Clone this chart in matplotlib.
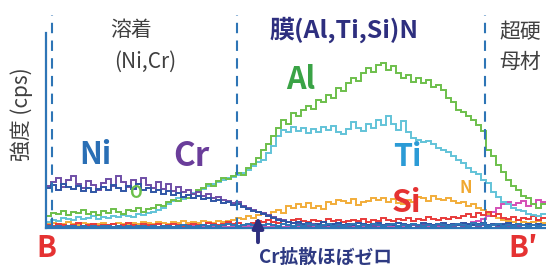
import numpy as np
import matplotlib
matplotlib.use("Agg")
import matplotlib.pyplot as plt

plt.rcParams['font.family'] = ['Noto Sans CJK JP', 'DejaVu Sans']

# profilo lungo la linea B-B' (100 canali, larghezza 5 unità)
n_bin = 100
largh = 5

al = [12, 15, 14, 17, 13, 16, 15, 18, 14, 16, 13, 17, 15, 19, 16, 14, 18, 17, 20, 16,
      19, 20, 23, 22, 26, 28, 27, 31, 30, 34, 38, 40, 44, 42, 47, 50, 49, 52, 55, 53,
      60, 64, 70, 78, 84, 92, 100, 108, 104, 115, 112, 118, 122, 119, 128, 126, 133, 130, 140, 137,
      145, 150, 147, 155, 160, 156, 163, 165, 158, 162, 155, 150, 153, 146, 150, 145, 148, 141, 143, 138,
      130, 126, 118, 116, 112, 108, 103, 97, 78, 72, 63, 56, 48, 42, 38, 32, 30, 24, 20, 24]

ti = [6, 8, 7, 10, 9, 8, 11, 9, 10, 12, 9, 11, 10, 12, 11, 13, 12, 11, 14, 13,
      15, 16, 18, 20, 24, 27, 30, 29, 33, 35, 37, 39, 42, 44, 46, 48, 50, 51, 53, 55,
      58, 62, 66, 68, 75, 82, 92, 98, 96, 101, 97, 100, 95, 99, 96, 101, 98, 102, 96, 94,
      99, 106, 100, 97, 104, 100, 108, 103, 112, 104, 98, 107, 96, 90, 88, 86, 87, 84, 80, 78,
      76, 72, 68, 65, 60, 56, 54, 48, 45, 36, 31, 26, 24, 20, 18, 17, 14, 13, 12, 14]

ni = [40, 43, 38, 44, 41, 39, 42, 37, 40, 36, 39, 41, 38, 43, 40, 37, 42, 39, 44, 38,
      40, 36, 38, 34, 37, 33, 35, 31, 33, 30, 32, 29, 30, 27, 28, 25, 26, 23, 24, 21,
      19, 17, 16, 14, 12, 10, 8, 7, 6, 5, 6, 4, 5, 3, 4, 6, 3, 4, 5, 3,
      4, 3, 5, 4, 3, 4, 5, 3, 4, 3, 5, 4, 3, 4, 3, 5, 4, 3, 4, 5,
      3, 4, 3, 5, 4, 3, 4, 5, 3, 4, 3, 4, 5, 3, 4, 3, 4, 3, 4, 3]

cr = [42, 46, 50, 41, 48, 52, 44, 40, 47, 43, 38, 45, 49, 42, 52, 46, 41, 48, 44, 50,
      43, 40, 46, 39, 44, 37, 41, 36, 38, 34, 36, 32, 34, 30, 31, 28, 27, 25, 26, 22,
      20, 18, 16, 15, 13, 11, 9, 8, 6, 5, 4, 3, 2, 4, 3, 2, 3, 4, 2, 3,
      2, 3, 2, 4, 3, 2, 3, 2, 3, 4, 2, 3, 2, 3, 2, 3, 4, 2, 3, 2,
      3, 2, 3, 2, 4, 3, 2, 3, 2, 3, 2, 3, 2, 3, 2, 3, 2, 3, 2, 3]

n_arancio = [4, 5, 3, 4, 6, 4, 3, 5, 4, 3, 4, 5, 3, 4, 5, 4, 3, 5, 4, 6,
             5, 4, 6, 5, 4, 6, 5, 7, 5, 6, 5, 7, 6, 5, 7, 6, 7, 8, 10, 9,
             12, 10, 13, 14, 12, 16, 18, 15, 22, 20, 24, 21, 25, 20, 22, 19, 26, 24, 28, 27,
             25, 29, 23, 26, 27, 30, 28, 30, 26, 29, 25, 24, 28, 26, 31, 30, 27, 32, 29, 28,
             30, 27, 25, 26, 22, 24, 20, 18, 14, 12, 10, 8, 7, 6, 8, 6, 5, 6, 7, 5]

si = [3, 2, 4, 3, 2, 3, 5, 2, 3, 4, 2, 3, 3, 4, 2, 3, 5, 3, 2, 4,
      3, 3, 4, 2, 3, 4, 3, 2, 3, 4, 3, 3, 5, 4, 3, 4, 6, 4, 5, 3,
      4, 5, 7, 6, 8, 6, 5, 7, 6, 8, 9, 7, 6, 8, 7, 6, 9, 7, 8, 6,
      7, 8, 7, 9, 6, 8, 7, 10, 8, 7, 9, 8, 10, 7, 9, 8, 11, 9, 8, 10,
      9, 11, 10, 12, 14, 11, 15, 13, 16, 12, 14, 10, 9, 11, 8, 10, 9, 12, 8, 10]

magenta = [1, 1, 2, 1, 1, 2, 1, 1, 2, 1, 1, 2, 1, 1, 2, 1, 1, 2, 1, 1,
           2, 1, 1, 2, 1, 1, 2, 1, 1, 2, 1, 1, 2, 1, 1, 2, 1, 1, 2, 1,
           2, 1, 1, 2, 1, 2, 1, 1, 2, 1, 2, 1, 1, 2, 1, 2, 1, 2, 1, 2,
           1, 2, 1, 2, 1, 2, 1, 2, 1, 2, 2, 1, 2, 3, 2, 3, 2, 3, 2, 3,
           3, 4, 3, 5, 4, 6, 7, 9, 12, 16, 20, 24, 26, 23, 25, 27, 22, 24, 28, 26]

blu = [2, 1, 2, 1, 2, 2, 1, 2, 1, 2, 1, 2, 2, 1, 2, 1, 2, 1, 2, 2,
       1, 2, 1, 2, 2, 1, 2, 3, 2, 1, 2, 3, 2, 3, 2, 3, 4, 3, 2, 3,
       4, 3, 2, 3, 4, 3, 2, 4, 3, 2, 3, 2, 4, 3, 2, 3, 4, 2, 3, 2,
       3, 4, 2, 3, 2, 4, 3, 2, 3, 4, 2, 3, 2, 4, 3, 2, 3, 2, 4, 3,
       2, 3, 4, 3, 2, 5, 3, 4, 2, 3, 4, 2, 3, 2, 4, 3, 2, 3, 2, 3]

bordi = np.arange(n_bin + 1) * largh

serie = [(n_arancio, '#f2ad3a'), (magenta, '#d44fb5'), (si, '#e83a3a'),
         (ti, '#62c3d8'), (al, '#6dbf4b'), (cr, '#6f4ea6'), (ni, '#2f55a5'),
         (blu, '#2e75b6')]

fig = plt.figure(figsize=(5.46, 2.69), dpi=100)
ax = fig.add_axes([46 / 546, 41 / 269, 500 / 546, 213 / 269])

for valori, colore in serie:
    ax.stairs(valori, bordi, baseline=None, color=colore, lw=1.4)

ax.set_xlim(0, 500)
ax.set_ylim(0, 213)
for s in ['top', 'right']:
    ax.spines[s].set_visible(False)
for s in ['left', 'bottom']:
    ax.spines[s].set_color('#2e75b6')
    ax.spines[s].set_linewidth(1.6)
ax.spines['left'].set_bounds(0, 195)
ax.set_xticks([])
ax.set_yticks([])

# confini delle zone
for xv in [6, 191, 439]:
    ax.axvline(xv, color='#2e75b6', lw=1.5, dashes=(5, 3.5))


def px(x, y):
    # da pixel dell'immagine a coordinate dati
    return x - 46, 228 - y


grigio = '#404040'
ax.text(*px(131, 30), '溶着', fontsize=15, color=grigio, ha='center', va='center')
ax.text(*px(145, 62), '(Ni,Cr)', fontsize=15, color=grigio, ha='center', va='center')
ax.text(*px(344, 30), '膜(Al,Ti,Si)N', fontsize=18, color='#2e2f7f', weight='bold',
        ha='center', va='center')
ax.text(*px(520, 32), '超硬', fontsize=15, color=grigio, ha='center', va='center')
ax.text(*px(520, 62), '母材', fontsize=15, color=grigio, ha='center', va='center')
ax.text(*px(22, 114), '強度 (cps)', fontsize=15, color=grigio, rotation=90,
        ha='center', va='center')

etichette = [('Ni', 95, 155, '#2a6fb5', 22), ('Cr', 191, 157, '#6a3d9a', 24),
             ('Al', 301, 80, '#3aa346', 22), ('Ti', 407, 157, '#2b9bd6', 22),
             ('Si', 406, 203, '#e53232', 23), ('N', 466, 188, '#f0a830', 12),
             ('O', 136, 193, '#6cc04a', 12), ('B', 46, 248, '#e53232', 21),
             ('B′', 523, 248, '#e53232', 21)]
for t, x, y, c, fs in etichette:
    ax.text(*px(x, y), t, fontsize=fs, color=c, weight='bold', ha='center', va='center')

ax.annotate('', xy=px(258, 214), xytext=px(258, 245),
            arrowprops=dict(arrowstyle='-|>', color='#2e2f7f', lw=2.8, mutation_scale=16),
            annotation_clip=False)
ax.text(*px(325, 257), 'Cr拡散ほぼゼロ', fontsize=13.5, color='#2e3a82', weight='bold',
        ha='center', va='center')

fig.savefig('out.png', dpi=100)
